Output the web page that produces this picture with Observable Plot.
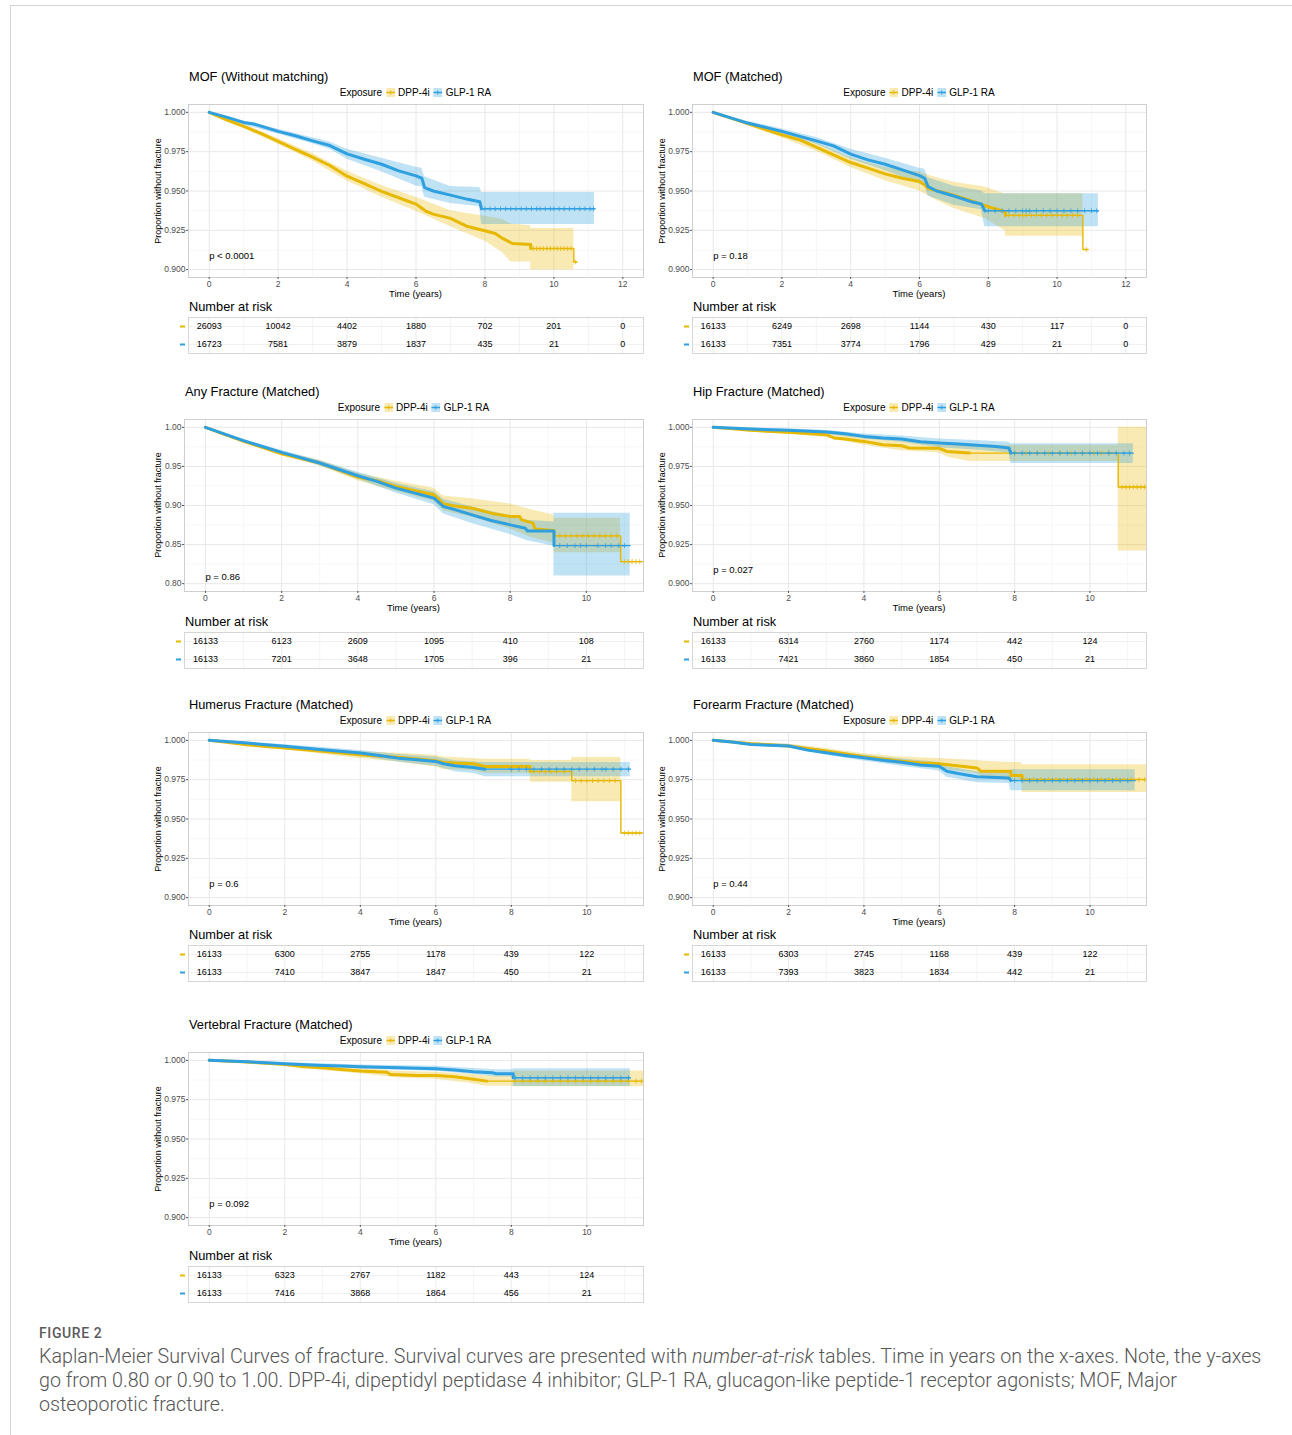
<!DOCTYPE html>
<html>
<head>
<meta charset="utf-8">
<script src="https://cdn.jsdelivr.net/npm/d3@7"></script>
<script src="https://cdn.jsdelivr.net/npm/@observablehq/plot@0.6"></script>
<style>
html,body{margin:0;padding:0;background:#fff;}
#page{position:relative;width:1292px;height:1435px;overflow:hidden;font-family:"Liberation Sans",Arial,Helvetica,sans-serif;color:#000;}
#card{position:absolute;left:10px;top:5px;width:1300px;height:1450px;border-top:1px solid #d4d4d4;border-left:1px solid #d4d4d4;}
.t{position:absolute;white-space:nowrap;line-height:1;}
.title{font-size:12.8px;transform:translateY(-50%);}
.legend{font-size:10px;transform:translate(-50%,-50%);display:flex;align-items:center;}
.legend svg{margin:0 3px 0 4px;}
.ylab{font-size:9px;transform:translate(-50%,-50%) rotate(-90deg);}
.xlab{font-size:9.5px;transform:translate(-50%,-50%);}
.nar{font-size:12.8px;transform:translateY(-50%);}
.plot{position:absolute;overflow:visible;}
#caption{position:absolute;left:39px;top:1321px;font-family:Roboto,"Noto Sans",sans-serif;color:#5a5a5a;}
#caption .fig{font-size:14px;font-weight:500;letter-spacing:0.6px;line-height:24px;color:#5a5a5a;}
#caption .txt{font-size:19.7px;font-weight:300;line-height:24px;white-space:nowrap;color:#555;}
</style>
</head>
<body>
<div id="page"><div id="card"></div></div>
<script>
// ---------------- DATA ----------------
const groups = ["DPP-4i", "GLP-1 RA"];
const times12 = [0, 2, 4, 6, 8, 10, 12];
const times10 = [0, 2, 4, 6, 8, 10];
const yTicks900 = [0.900, 0.925, 0.950, 0.975, 1.000];
const yMinor900 = [0.9125, 0.9375, 0.9625, 0.9875];
const yTicks800 = [0.80, 0.85, 0.90, 0.95, 1.00];
const yMinor800 = [0.825, 0.875, 0.925, 0.975];

// Panel 1: MOF (Without matching)   [t, survival] ; band [t, lower, upper]
const p1_dpp_line = [[0,1],[0.5,0.9953],[1,0.9911],[1.5,0.9866],[2,0.9815],[2.5,0.9764],[3,0.9715],[3.5,0.9662],[4,0.9594],[4.5,0.9547],[5,0.9498],[5.5,0.9457],[6,0.9417],[6.3,0.9370],[6.5,0.9353],[7,0.9326],[7.5,0.9274],[8,0.9247],[8.3,0.9230],[8.5,0.9200],[8.8,0.9166],[9.33,0.9160],[9.33,0.9134],[10.58,0.9134],[10.58,0.9049],[10.66,0.9049]];
const p1_dpp_band = [[0,1,1],[1,0.9897,0.9925],[2,0.9797,0.9833],[3,0.9690,0.9738],[4,0.9563,0.9625],[5,0.9460,0.9535],[6,0.9372,0.9460],[7,0.9272,0.9375],[8,0.9180,0.9340],[8.5,0.9110,0.9320],[8.75,0.9049,0.9290],[9.33,0.9049,0.9279],[9.33,0.900,0.9262],[10.58,0.900,0.9262]];
const p1_glp_line = [[0,1],[0.5,0.9970],[1,0.9936],[1.3,0.9926],[2,0.9879],[2.5,0.9851],[3,0.9819],[3.5,0.9789],[4,0.9736],[4.5,0.9702],[5,0.9670],[5.5,0.9628],[6,0.9596],[6.17,0.9581],[6.25,0.9521],[6.5,0.9500],[7,0.9474],[7.5,0.9447],[7.85,0.9432],[7.9,0.9387],[11.18,0.9387]];
const p1_glp_band = [[0,1,1],[1,0.9920,0.9945],[2,0.9862,0.9893],[3,0.9800,0.9838],[3.5,0.9765,0.9812],[4,0.9702,0.9766],[5,0.9623,0.9709],[6,0.9532,0.9651],[6.17,0.9525,0.9645],[6.25,0.9460,0.9591],[7,0.9421,0.9528],[7.85,0.9400,0.9523],[7.9,0.9287,0.9491],[11.18,0.9287,0.9491]];
const p1_dpp_cens = [9.4,9.5,9.6,9.7,9.8,9.9,10.0,10.1,10.2,10.3,10.4,10.5,10.62];
const p1_glp_cens = [8.0,8.15,8.3,8.45,8.6,8.75,8.9,9.05,9.2,9.35,9.5,9.6,9.75,9.9,10.0,10.15,10.3,10.45,10.6,10.75,10.9,11.05,11.15];
const p1_risk_dpp = [26093, 10042, 4402, 1880, 702, 201, 0];
const p1_risk_glp = [16723, 7581, 3879, 1837, 435, 21, 0];

// Panel 2: MOF (Matched)
const p2_dpp_line = [[0,1],[1,0.9928],[2,0.9857],[2.5,0.9826],[3,0.9779],[3.5,0.9730],[4,0.9681],[4.5,0.9645],[5,0.9609],[5.5,0.9581],[6,0.9560],[6.15,0.9538],[6.25,0.9517],[6.5,0.9502],[7,0.9474],[7.5,0.9438],[8,0.9400],[8.5,0.9368],[8.5,0.9345],[10.75,0.9345],[10.75,0.9128],[10.9,0.9128]];
const p2_dpp_band = [[0,1,1],[1,0.9915,0.9940],[2,0.9838,0.9875],[3,0.9752,0.9805],[4,0.9650,0.9712],[5,0.9565,0.9650],[6,0.9500,0.9620],[6.5,0.9440,0.9585],[7,0.9388,0.9555],[7.9,0.9325,0.9525],[8.5,0.9245,0.9480],[8.5,0.9213,0.9483],[10.75,0.9213,0.9483]];
const p2_glp_line = [[0,1],[1,0.9932],[2,0.9879],[3,0.9819],[3.5,0.9787],[4,0.9734],[4.5,0.9698],[5,0.9670],[5.5,0.9634],[6,0.9598],[6.15,0.9581],[6.25,0.9528],[6.5,0.9500],[7,0.9468],[7.5,0.9432],[7.8,0.9417],[7.9,0.9374],[11.2,0.9374]];
const p2_glp_band = [[0,1,1],[1,0.9920,0.9944],[2,0.9862,0.9895],[3,0.9798,0.9840],[4,0.9702,0.9765],[5,0.9630,0.9708],[6,0.9545,0.9645],[6.15,0.9535,0.9640],[6.25,0.9468,0.9585],[7,0.9410,0.9530],[7.8,0.9380,0.9500],[7.9,0.9272,0.9483],[11.2,0.9272,0.9483]];
const p2_dpp_cens = [8.6,8.75,8.9,9.0,9.1,9.25,9.4,9.55,9.7,9.85,10.0,10.15,10.3,10.45,10.6,10.85];
const p2_glp_cens = [8.0,8.2,8.4,8.6,8.8,9.0,9.1,9.2,9.4,9.6,9.8,10.0,10.2,10.4,10.6,10.8,11.0,11.15];
const p2_risk_dpp = [16133, 6249, 2698, 1144, 430, 117, 0];
const p2_risk_glp = [16133, 7351, 3774, 1796, 429, 21, 0];

// Panel 3: Any Fracture (Matched)
const p3_dpp_line = [[0,1],[1,0.9821],[2,0.9662],[3,0.9543],[4,0.9363],[4.5,0.9316],[5,0.9244],[5.5,0.9188],[6,0.9137],[6.25,0.9021],[6.5,0.8996],[7,0.8966],[7.5,0.8902],[8,0.8859],[8.25,0.8859],[8.3,0.8816],[8.6,0.8774],[8.65,0.8700],[9.15,0.8680],[9.15,0.8611],[10.9,0.8611],[10.9,0.8282],[11.5,0.8282]];
const p3_dpp_band = [[0,1,1],[1,0.9803,0.9838],[2,0.9637,0.9686],[3,0.9505,0.9580],[4,0.9315,0.9412],[5,0.9180,0.9310],[6,0.9055,0.9220],[6.25,0.8930,0.9120],[7,0.8850,0.9085],[8,0.8700,0.9020],[8.6,0.8580,0.8940],[9.15,0.8520,0.8880],[9.15,0.8397,0.8838],[10.9,0.8397,0.8838]];
const p3_glp_line = [[0,1],[1,0.9829],[2,0.9679],[3,0.9543],[4,0.9380],[4.5,0.9308],[5,0.9222],[5.5,0.9158],[6,0.9094],[6.25,0.8987],[6.5,0.8953],[7,0.8880],[7.5,0.8808],[8,0.8752],[8.4,0.8709],[8.45,0.8675],[9.15,0.8675],[9.15,0.8487],[11.15,0.8487]];
const p3_glp_band = [[0,1,1],[1,0.9812,0.9845],[2,0.9655,0.9702],[3,0.9510,0.9575],[4,0.9335,0.9425],[5,0.9160,0.9285],[6,0.9010,0.9175],[6.25,0.8890,0.9080],[7,0.8770,0.8980],[8,0.8630,0.8870],[8.45,0.8550,0.8810],[9.15,0.8480,0.8790],[9.15,0.8098,0.8902],[11.15,0.8098,0.8902]];
const p3_dpp_cens = [9.3,9.45,9.6,9.75,9.9,10.05,10.2,10.35,10.5,10.65,10.8,11.0,11.1,11.2,11.3,11.4];
const p3_glp_cens = [9.3,9.5,9.7,9.85,10.0,10.3,10.5,10.65,10.85,11.0];
const p3_risk_dpp = [16133, 6123, 2609, 1095, 410, 108];
const p3_risk_glp = [16133, 7201, 3648, 1705, 396, 21];

// Panel 4: Hip Fracture (Matched)
const p4_dpp_line = [[0,1],[1,0.9981],[2,0.9968],[3,0.9953],[3.2,0.9932],[3.5,0.9925],[4,0.9910],[4.5,0.9889],[5,0.9882],[5.2,0.9868],[6,0.9866],[6.2,0.9846],[6.8,0.9835],[10.75,0.9835],[10.75,0.9618],[11.5,0.9618]];
const p4_dpp_band = [[0,1,1],[1,0.9970,0.9990],[2,0.9955,0.9980],[3,0.9935,0.9970],[4,0.9885,0.9935],[5,0.9850,0.9912],[6,0.9835,0.9900],[6.2,0.9810,0.9890],[6.8,0.9782,0.9885],[10.75,0.9782,0.9885],[10.75,0.9209,1.0],[11.5,0.9209,1.0]];
const p4_glp_line = [[0,1],[1,0.9989],[2,0.9981],[3,0.9970],[3.5,0.9959],[4,0.9942],[4.5,0.9932],[5,0.9925],[5.5,0.9908],[6,0.9900],[6.5,0.9893],[7,0.9885],[7.5,0.9878],[7.85,0.9868],[7.9,0.9835],[11.15,0.9835]];
const p4_glp_band = [[0,1,1],[1,0.9982,0.9995],[2,0.9972,0.9990],[3,0.9955,0.9982],[4,0.9925,0.9958],[5,0.9905,0.9945],[6,0.9870,0.9925],[7,0.9855,0.9915],[7.85,0.9835,0.9905],[7.9,0.9769,0.9895],[11.15,0.9769,0.9895]];
const p4_dpp_cens = [8.0,8.3,8.6,8.9,9.2,9.5,9.8,10.1,10.3,10.5,10.85,10.95,11.05,11.15,11.25,11.35,11.45];
const p4_glp_cens = [8.0,8.2,8.4,8.6,8.8,9.0,9.2,9.4,9.6,9.8,10.0,10.2,10.5,10.7,10.9,11.05];
const p4_risk_dpp = [16133, 6314, 2760, 1174, 442, 124];
const p4_risk_glp = [16133, 7421, 3860, 1854, 450, 21];

// Panel 5: Humerus Fracture (Matched)
const p5_dpp_line = [[0,1],[1,0.9972],[2,0.9951],[3,0.9930],[4,0.9908],[5,0.9893],[5.5,0.9881],[6,0.9870],[6.2,0.9859],[7,0.9851],[7.3,0.9834],[8.5,0.9834],[8.5,0.9802],[9.6,0.9802],[9.6,0.9744],[10.9,0.9744],[10.9,0.9411],[11.5,0.9411]];
const p5_dpp_band = [[0,1,1],[1,0.9960,0.9982],[2,0.9940,0.9962],[3,0.9912,0.9945],[4,0.9885,0.9928],[5,0.9862,0.9918],[6,0.9830,0.9905],[6.2,0.9815,0.9895],[7,0.9808,0.9885],[7.3,0.9790,0.9880],[8.5,0.9790,0.9880],[8.5,0.9733,0.9872],[9.6,0.9733,0.9872],[9.6,0.9610,0.9891],[10.9,0.9610,0.9891]];
const p5_glp_line = [[0,1],[1,0.9983],[2,0.9962],[3,0.9940],[4,0.9919],[4.5,0.9904],[5,0.9887],[5.5,0.9876],[6,0.9866],[6.2,0.9851],[6.5,0.9838],[7,0.9827],[7.3,0.9817],[11.15,0.9817]];
const p5_glp_band = [[0,1,1],[1,0.9975,0.9990],[2,0.9952,0.9972],[3,0.9925,0.9955],[4,0.9898,0.9935],[5,0.9862,0.9910],[6,0.9835,0.9895],[6.5,0.9800,0.9870],[7,0.9790,0.9862],[7.3,0.9768,0.9860],[11.15,0.9768,0.9860]];
const p5_dpp_cens = [8.6,8.75,8.9,9.05,9.2,9.4,9.7,9.85,10.0,10.15,10.3,10.45,10.6,10.75,11.0,11.1,11.2,11.3,11.4];
const p5_glp_cens = [8.0,8.2,8.4,8.6,8.8,9.0,9.2,9.4,9.6,9.8,10.0,10.2,10.4,10.5,10.7,10.9,11.1];
const p5_risk_dpp = [16133, 6300, 2755, 1178, 439, 122];
const p5_risk_glp = [16133, 7410, 3847, 1847, 450, 21];

// Panel 6: Forearm Fracture (Matched)
const p6_dpp_line = [[0,1],[1,0.9979],[2,0.9964],[3,0.9932],[4,0.9896],[5,0.9868],[5.5,0.9857],[6,0.9851],[7,0.9825],[7.1,0.9804],[7.9,0.9804],[7.9,0.9776],[8.2,0.9776],[8.2,0.9751],[11.5,0.9751]];
const p6_dpp_band = [[0,1,1],[1,0.9965,0.9988],[2,0.9952,0.9975],[3,0.9915,0.9948],[4,0.9878,0.9915],[5,0.9845,0.9895],[6,0.9820,0.9885],[7,0.9790,0.9872],[7.1,0.9770,0.9868],[7.9,0.9745,0.9860],[8.2,0.9745,0.9860],[8.2,0.9668,0.9845],[11.5,0.9668,0.9845]];
const p6_glp_line = [[0,1],[0.5,0.9989],[1,0.9974],[2,0.9964],[2.5,0.9938],[3,0.9921],[3.5,0.9904],[4,0.9889],[4.5,0.9874],[5,0.9861],[5.5,0.9844],[6,0.9836],[6.2,0.9804],[6.5,0.9789],[7,0.9768],[7.85,0.9761],[7.9,0.9744],[11.2,0.9744]];
const p6_glp_band = [[0,1,1],[1,0.9965,0.9983],[2,0.9955,0.9975],[3,0.9905,0.9937],[4,0.9868,0.9905],[5,0.9835,0.9882],[6,0.9805,0.9860],[6.2,0.9765,0.9832],[7,0.9730,0.9800],[7.85,0.9725,0.9795],[7.9,0.9680,0.9813],[11.2,0.9680,0.9813]];
const p6_dpp_cens = [8.3,8.5,8.7,8.9,9.1,9.3,9.5,9.7,9.9,10.1,10.3,10.5,10.7,10.9,11.1,11.3,11.45];
const p6_glp_cens = [8.0,8.2,8.4,8.6,8.8,9.0,9.2,9.4,9.6,9.8,10.0,10.2,10.4,10.6,10.8,11.0];
const p6_risk_dpp = [16133, 6303, 2745, 1168, 439, 122];
const p6_risk_glp = [16133, 7393, 3823, 1834, 442, 21];

// Panel 7: Vertebral Fracture (Matched)
const p7_dpp_line = [[0,1],[1,0.9989],[2,0.9974],[2.5,0.9959],[3,0.9953],[3.5,0.9942],[4,0.9932],[4.7,0.9925],[4.8,0.9910],[5.5,0.9904],[6,0.9904],[6.5,0.9896],[6.9,0.9883],[7.35,0.9868],[11.5,0.9868]];
const p7_dpp_band = [[0,1,1],[1,0.9978,0.9995],[2,0.9965,0.9982],[3,0.9935,0.9968],[4,0.9915,0.9950],[5,0.9888,0.9930],[6,0.9880,0.9925],[6.9,0.9855,0.9912],[7.35,0.9836,0.9900],[8.05,0.9836,0.9900],[8.05,0.9832,0.9932],[11.5,0.9832,0.9932]];
const p7_glp_line = [[0,1],[1,0.9991],[1.5,0.9985],[2,0.9979],[3,0.9968],[3.5,0.9964],[4,0.9959],[5,0.9953],[6,0.9947],[6.5,0.9938],[7,0.9928],[7.5,0.9921],[7.6,0.9915],[8.05,0.9915],[8.05,0.9889],[11.15,0.9889]];
const p7_glp_band = [[0,1,1],[1,0.9985,0.9997],[2,0.9970,0.9986],[4,0.9945,0.9970],[6,0.9930,0.9962],[7,0.9910,0.9948],[7.6,0.9895,0.9940],[8.05,0.9895,0.9940],[8.05,0.9834,0.9947],[11.15,0.9834,0.9947]];
const p7_dpp_cens = [8.1,8.3,8.5,8.7,8.9,9.1,9.3,9.5,9.7,9.9,10.1,10.3,10.5,10.7,10.9,11.1,11.3,11.45];
const p7_glp_cens = [8.1,8.3,8.5,8.7,8.9,9.1,9.3,9.5,9.7,9.9,10.1,10.3,10.5,10.7,10.9,11.1];
const p7_risk_dpp = [16133, 6323, 2767, 1182, 443, 124];
const p7_risk_glp = [16133, 7416, 3868, 1864, 456, 21];

const titles = ["MOF (Without matching)", "MOF (Matched)", "Any Fracture (Matched)", "Hip Fracture (Matched)", "Humerus Fracture (Matched)", "Forearm Fracture (Matched)", "Vertebral Fracture (Matched)"];
const pvalues = ["p < 0.0001", "p = 0.18", "p = 0.86", "p = 0.027", "p = 0.6", "p = 0.44", "p = 0.092"];
// time up to which censoring is so dense that the curve looks thick
const denseEnd = [[9.33, 7.9], [8.5, 7.9], [9.15, 9.15], [6.8, 7.9], [8.5, 8.0], [8.2, 7.9], [7.35, 8.05]];

// ---------------- LAYOUT ----------------
const ORANGE = "#E7B800", BLUE = "#2E9FDF";
const layout = [
  {L:188, R:643,  T:104,  B:277,  ylabX:158, nar:30, tab:40},
  {L:692, R:1146, T:104,  B:277,  ylabX:662, nar:30, tab:40},
  {L:184, R:643,  T:419,  B:591,  ylabX:158, nar:31, tab:41},
  {L:692, R:1146, T:419,  B:591,  ylabX:662, nar:31, tab:41},
  {L:188, R:643,  T:732,  B:905,  ylabX:158, nar:30, tab:40},
  {L:692, R:1146, T:732,  B:905,  ylabX:662, nar:30, tab:40},
  {L:188, R:643,  T:1052, B:1225, ylabX:158, nar:31, tab:41}
];

const series = [
  [p1_dpp_line,p1_dpp_band,p1_dpp_cens,p1_risk_dpp, p1_glp_line,p1_glp_band,p1_glp_cens,p1_risk_glp],
  [p2_dpp_line,p2_dpp_band,p2_dpp_cens,p2_risk_dpp, p2_glp_line,p2_glp_band,p2_glp_cens,p2_risk_glp],
  [p3_dpp_line,p3_dpp_band,p3_dpp_cens,p3_risk_dpp, p3_glp_line,p3_glp_band,p3_glp_cens,p3_risk_glp],
  [p4_dpp_line,p4_dpp_band,p4_dpp_cens,p4_risk_dpp, p4_glp_line,p4_glp_band,p4_glp_cens,p4_risk_glp],
  [p5_dpp_line,p5_dpp_band,p5_dpp_cens,p5_risk_dpp, p5_glp_line,p5_glp_band,p5_glp_cens,p5_risk_glp],
  [p6_dpp_line,p6_dpp_band,p6_dpp_cens,p6_risk_dpp, p6_glp_line,p6_glp_band,p6_glp_cens,p6_risk_glp],
  [p7_dpp_line,p7_dpp_band,p7_dpp_cens,p7_risk_dpp, p7_glp_line,p7_glp_band,p7_glp_cens,p7_risk_glp]
];

const page = document.getElementById("page");
function addText(cls, html, x, y) {
  const d = document.createElement("div");
  d.className = "t " + cls;
  d.innerHTML = html;
  d.style.left = x + "px";
  d.style.top = y + "px";
  page.appendChild(d);
  return d;
}
function swatch(c) {
  return `<svg width="9" height="9"><rect x="0" y="0" width="9" height="9" fill="${c}" fill-opacity="0.3"/><line x1="0" y1="4.5" x2="9" y2="4.5" stroke="${c}" stroke-width="1.6"/><line x1="4.5" y1="2.5" x2="4.5" y2="6.5" stroke="${c}" stroke-width="1"/></svg>`;
}
function stepAt(line, c) { let s = line[0][1]; for (const [t, v] of line) if (t <= c) s = v; return s; }

const ML = 36;
for (let i = 0; i < 7; i++) {
  const lay = layout[i];
  const [dL, dB, dC, dR, gL, gB, gC, gR] = series[i];
  const wide = i < 2;
  const xDom = wide ? [-0.6, 12.6] : [-0.55, 11.5];
  const times = wide ? times12 : times10;
  const xMinor = [1,3,5,7,9,11];
  const any = i === 2;
  const yDom = any ? [0.79, 1.01] : [0.895, 1.005];
  const yTicks = any ? yTicks800 : yTicks900;
  const yMinor = any ? yMinor800 : yMinor900;
  const yFmt = d3.format(any ? ".2f" : ".3f");
  const pY = any ? 0.809 : 0.909;
  const W = ML + (lay.R - lay.L) + 1;
  const H = 1 + (lay.B - lay.T) + 14;

  const marks = [
    Plot.ruleX(xMinor, {stroke: "#f3f3f3", strokeWidth: 0.7}),
    Plot.ruleY(yMinor, {stroke: "#f3f3f3", strokeWidth: 0.7}),
    Plot.ruleX(times, {stroke: "#e8e8e8", strokeWidth: 1}),
    Plot.ruleY(yTicks, {stroke: "#e8e8e8", strokeWidth: 1})
  ];
  const sets = [[dL, dB, dC, ORANGE, denseEnd[i][0]], [gL, gB, gC, BLUE, denseEnd[i][1]]];
  for (const [ln, bd, , col] of sets) {
    marks.push(Plot.areaY(bd.map(([t, lo, hi]) => ({t, lo, hi})), {x: "t", y1: "lo", y2: "hi", fill: col, fillOpacity: 0.3}));
  }
  for (const [ln, bd, cs, col, de] of sets) {
    const rows = ln.map(([t, s]) => ({t, s}));
    marks.push(Plot.line(rows, {x: "t", y: "s", stroke: col, strokeWidth: 1.4}));
    marks.push(Plot.line(rows.filter(d => d.t <= de), {x: "t", y: "s", stroke: col, strokeWidth: 3}));
    marks.push(Plot.dot(cs.map(t => ({t, s: stepAt(ln, t)})), {x: "t", y: "s", symbol: "plus", r: 1.7, stroke: col, strokeWidth: 0.8}));
  }
  marks.push(Plot.text([pvalues[i]], {x: 0, y: pY, text: d => d, textAnchor: "start", fontSize: 9.5, fill: "#000"}));
  marks.push(Plot.frame({stroke: "#cfcfcf"}));
  marks.push(Plot.axisX(times, {tickSize: 2, tickPadding: 1, tickFormat: d => String(d), label: null, stroke: "#555", fill: "#4d4d4d"}));
  marks.push(Plot.axisY(yTicks, {tickSize: 2, tickPadding: 1, tickFormat: yFmt, label: null, stroke: "#555", fill: "#4d4d4d"}));

  const svg = Plot.plot({
    width: W, height: H,
    marginLeft: ML, marginRight: 1, marginTop: 1, marginBottom: 14,
    x: {domain: xDom}, y: {domain: yDom},
    style: {fontFamily: '"Liberation Sans", Arial, sans-serif', fontSize: "8.5px", background: "transparent", color: "#4d4d4d"},
    marks
  });
  svg.classList.add("plot");
  svg.style.left = (lay.L - ML) + "px";
  svg.style.top = (lay.T - 1) + "px";
  page.appendChild(svg);

  // texts
  addText("title", titles[i], lay.L + 1, lay.T - 27.5);
  addText("legend", `Exposure${swatch(ORANGE)}DPP-4i${swatch(BLUE)}GLP-1 RA`, (lay.L + lay.R) / 2, lay.T - 11.5);
  addText("ylab", "Proportion without fracture", lay.ylabX, (lay.T + lay.B) / 2);
  addText("xlab", "Time (years)", (lay.L + lay.R) / 2, lay.B + 16.5);
  addText("nar", "Number at risk", lay.L + 1, lay.B + lay.nar);

  // risk table
  const cells = [];
  times.forEach((t, k) => { cells.push({t, g: groups[0], n: dR[k]}); cells.push({t, g: groups[1], n: gR[k]}); });
  const dash = {draw(ctx) { ctx.moveTo(-2.5, -1); ctx.lineTo(2.5, -1); ctx.lineTo(2.5, 1); ctx.lineTo(-2.5, 1); ctx.closePath(); }};
  const tbl = Plot.plot({
    width: W, height: 38,
    marginLeft: ML, marginRight: 1, marginTop: 1, marginBottom: 1,
    x: {domain: xDom, axis: null},
    y: {type: "point", domain: groups, axis: null},
    style: {fontFamily: '"Liberation Sans", Arial, sans-serif', fontSize: "9px", background: "transparent", color: "#000"},
    marks: [
      Plot.ruleX(xMinor.filter(v => v < xDom[1]), {stroke: "#f0f0f0", strokeWidth: 0.8}),
      Plot.ruleX(times, {stroke: "#ebebeb", strokeWidth: 1}),
      Plot.ruleY(groups, {stroke: "#f0f0f0", strokeWidth: 1}),
      Plot.frame({stroke: "#d6d6d6"}),
      Plot.text(cells, {x: "t", y: "g", text: d => String(d.n), fill: "#000", fontSize: 9}),
      Plot.dot([groups[0]], {y: d => d, frameAnchor: "left", dx: -6, symbol: dash, r: 3, fill: ORANGE, stroke: "none"}),
      Plot.dot([groups[1]], {y: d => d, frameAnchor: "left", dx: -6, symbol: dash, r: 3, fill: BLUE, stroke: "none"})
    ]
  });
  tbl.classList.add("plot");
  tbl.style.left = (lay.L - ML) + "px";
  tbl.style.top = (lay.B + lay.tab - 1) + "px";
  page.appendChild(tbl);
}

// caption
const cap = document.createElement("div");
cap.id = "caption";
cap.innerHTML = `<div class="fig">FIGURE 2</div>
<div class="txt">Kaplan-Meier Survival Curves of fracture. Survival curves are presented with <i>number-at-risk</i> tables. Time in years on the x-axes. Note, the y-axes<br>go from 0.80 or 0.90 to 1.00. DPP-4i, dipeptidyl peptidase 4 inhibitor; GLP-1 RA, glucagon-like peptide-1 receptor agonists; MOF, Major<br>osteoporotic fracture.</div>`;
page.appendChild(cap);
</script>
</body>
</html>
